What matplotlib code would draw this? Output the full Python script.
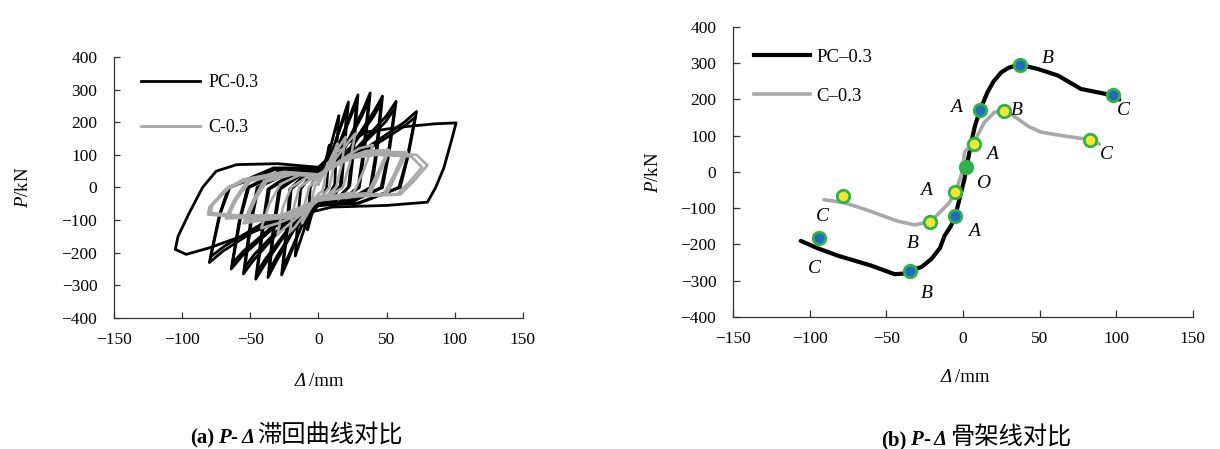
import matplotlib
matplotlib.use("Agg")
import matplotlib.pyplot as plt
from matplotlib.lines import Line2D

plt.rcParams['font.family'] = ['Liberation Serif', 'Noto Sans CJK SC']
plt.rcParams['mathtext.fontset'] = 'custom'
plt.rcParams['mathtext.rm'] = 'Liberation Serif'
plt.rcParams['mathtext.it'] = 'Liberation Serif:italic'
plt.rcParams['mathtext.bf'] = 'Liberation Serif:bold'

# ---------------- data: (a) hysteresis loops ----------------
pc_loop_x = [
    [0, 4, 7, 8, 7, 6, 3, 0, -4, -7, -8, -7, -6, -3, 0],
    [0, 8, 13, 15, 13, 12, 7, 0, -9, -15, -17, -15, -13, -7, 0],
    [0, 11, 19, 22, 19, 17, 10, 0, -13, -23, -27, -23, -21, -11, 0],
    [0, 10, 18, 21, 18, 16, 9, 0, -12, -22, -26, -22, -20, -10, 0],
    [0, 14, 25, 29, 26, 23, 13, 0, -18, -32, -37, -33, -29, -15, 0],
    [0, 13, 24, 28, 25, 22, 12, 0, -17, -31, -36, -32, -28, -14, 0],
    [0, 19, 33, 38, 34, 30, 16, 0, -22, -40, -46, -41, -37, -19, 0],
    [0, 18, 32, 37, 33, 29, 15, 0, -21, -39, -45, -40, -36, -18, 0],
    [0, 23, 41, 47, 43, 39, 20, 0, -27, -48, -55, -50, -45, -23, 0],
    [0, 22, 40, 46, 42, 38, 19, 0, -26, -47, -54, -49, -44, -22, 0],
    [0, 28, 50, 57, 52, 47, 24, 0, -32, -56, -64, -58, -52, -26, 0],
    [0, 27, 49, 56, 51, 46, 23, 0, -31, -55, -63, -57, -51, -25, 0],
    [0, 35, 63, 72, 66, 60, 30, 0, -40, -70, -80, -73, -66, -33, 0],
    [0, 34, 62, 71, 65, 59, 29, 0, -39, -69, -79, -72, -65, -32, 0],
    [0, 15, 35, 60, 85, 101, 98, 92, 86, 80, 50, 10, -20, -50, -80, -97,
     -105, -103, -95, -85, -75, -60, -30, 0],
]
pc_loop_y = [
    [20, 60, 110, 130, 60, 0, -30, -35, -70, -115, -130, -60, 0, 25, 20],
    [30, 110, 190, 220, 100, 10, -30, -45, -110, -185, -210, -90, -5, 30, 30],
    [35, 120, 225, 262, 110, 10, -35, -50, -125, -230, -268, -110, -5, 35, 35],
    [30, 110, 205, 240, 100, 5, -35, -45, -115, -210, -245, -100, -5, 30, 30],
    [40, 120, 240, 284, 120, 5, -40, -55, -130, -235, -276, -120, -5, 40, 40],
    [35, 110, 220, 262, 110, 0, -40, -50, -120, -215, -255, -110, -5, 35, 35],
    [45, 120, 240, 290, 120, 0, -45, -55, -130, -240, -281, -120, -5, 45, 45],
    [40, 110, 220, 268, 110, 0, -45, -50, -120, -220, -260, -110, -5, 40, 40],
    [50, 120, 235, 280, 110, 0, -45, -55, -125, -225, -265, -110, 0, 50, 50],
    [45, 110, 215, 258, 100, 0, -45, -50, -115, -205, -245, -100, 0, 45, 45],
    [55, 120, 220, 264, 110, 0, -45, -55, -120, -210, -250, -100, 0, 55, 55],
    [50, 110, 200, 242, 100, 0, -45, -50, -110, -195, -232, -90, 0, 50, 50],
    [60, 120, 200, 233, 100, 0, -48, -55, -115, -195, -230, -90, 0, 60, 60],
    [55, 110, 185, 215, 90, 0, -48, -52, -105, -180, -212, -80, 0, 55, 55],
    [62, 120, 170, 185, 195, 198, 150, 60, 0, -45, -55, -60, -90, -140, -185, -205,
     -190, -150, -80, 0, 50, 70, 73, 62],
]
c_loop_x = [
    [0, 4, 7, 5, 3, 0, -3, -5, -4, -2, 0],
    [0, 7, 12, 14, 11, 8, 3, 0, -6, -10, -12, -10, -7, -3, 0],
    [0, 8, 16, 20, 17, 13, 6, 0, -9, -17, -21, -18, -14, -6, 0],
    [0, 10, 22, 27, 23, 18, 8, 0, -12, -25, -30, -26, -20, -9, 0],
    [0, 15, 30, 40, 33, 26, 12, 0, -15, -30, -42, -36, -28, -14, 0],
    [0, 18, 33, 50, 43, 36, 17, 0, -19, -38, -53, -46, -38, -19, 0],
    [0, 20, 35, 52, 45, 38, 18, 0, -20, -40, -55, -48, -40, -20, 0],
    [0, 20, 38, 62, 55, 48, 24, 0, -24, -48, -66, -60, -50, -24, 0],
    [0, 22, 40, 65, 57, 50, 25, 0, -25, -50, -68, -62, -52, -25, 0],
    [0, 24, 43, 68, 76, 67, 58, 29, 0, -29, -58, -79, -78, -66, -53, -24, 0],
    [0, 25, 45, 72, 80, 70, 60, 30, 0, -30, -60, -81, -80, -68, -55, -25, 0],
]
c_loop_y = [
    [10, 45, 76, 30, -10, -20, -35, -56, -20, 10, 10],
    [20, 70, 115, 135, 60, 0, -25, -30, -65, -95, -110, -50, 0, 20, 20],
    [25, 70, 130, 155, 70, 0, -25, -30, -75, -120, -137, -60, 0, 25, 25],
    [30, 75, 140, 165, 75, 0, -25, -35, -80, -125, -145, -60, 0, 30, 30],
    [35, 80, 120, 130, 50, -15, -25, -40, -85, -110, -125, -50, 10, 38, 35],
    [35, 85, 105, 105, 40, -18, -22, -35, -85, -95, -100, -35, 18, 40, 35],
    [38, 90, 112, 115, 45, -20, -25, -40, -90, -100, -110, -40, 20, 42, 38],
    [38, 88, 102, 100, 35, -20, -23, -38, -85, -86, -88, -35, 20, 42, 38],
    [40, 95, 110, 108, 40, -22, -25, -40, -90, -92, -95, -40, 22, 45, 40],
    [38, 90, 100, 95, 62, 18, -20, -25, -38, -88, -86, -78, -55, -3, 23, 45, 38],
    [40, 95, 105, 100, 68, 20, -22, -27, -40, -92, -90, -83, -60, -5, 25, 48, 40],
]

# ---------------- data: (b) skeleton curves ----------------
pc_skel_x = [-105.8, -95, -81.5, -60, -44.5, -38, -34.5, -27, -20.6, -15, -12, -8, -5,
             -2, 1, 5.4, 8, 11.3, 16, 20, 25, 30, 37, 49, 62, 77, 90, 97.8, 102]
pc_skel_y = [-190, -210, -231, -258, -282, -280, -273, -262, -240, -210, -176, -150, -122,
             -70, -19, 82, 130, 172, 220, 250, 275, 288, 296, 284, 266, 229, 218, 211, 200]
c_skel_x = [-90.6, -78.2, -66, -55.4, -43, -31.5, -21.3, -14, -9, -5, -2, 0, 1, 4, 7,
            10, 14, 20.6, 26.5, 31, 36, 43, 51, 65, 83, 89]
c_skel_y = [-76.5, -84, -100, -116, -135, -146, -137, -107, -85, -56, -20, 8, 54, 68, 76,
            105, 137, 165, 169, 160, 146, 125, 110, 100, 89, 77]
pc_key_x = [-93.9, -34.5, -5, 11.3, 37, 97.8]
pc_key_y = [-183, -273, -122, 172, 296, 211]
c_key_x = [-78.2, -21.3, -5, 7, 26.5, 83]
c_key_y = [-65, -137, -56, 76, 169, 89]
o_x = [2.2]
o_y = [13]
pt_labels = ['B', 'C', 'A', 'B', 'C', 'A', 'O', 'A', 'A', 'B', 'C', 'C', 'B']
pt_label_x = [55.4, 104.7, -4.3, 35.4, 93.4, 19, 13, -24.3, 7.2, -33, -91.9, -96.7, -23.9]
pt_label_y = [312, 169, 177, 169, 47, 47, -33, -50, -165, -197, -123, -266, -334]

x_ticks = [-150, -100, -50, 0, 50, 100, 150]
y_ticks = [-400, -300, -200, -100, 0, 100, 200, 300, 400]

BLACK = '#000000'
GREY = '#a8a8a8'
GREEN = '#2db34a'
BLUE = '#1f6cc0'
YELLOW = '#f0e82a'

W, H = 1220, 449
fig = plt.figure(figsize=(W / 100, H / 100), dpi=100)
axa = fig.add_axes([0.0934, 0.2918, 0.3352, 0.5813])
axb = fig.add_axes([0.6008, 0.294, 0.377, 0.6459])

SERIF = 'Liberation Serif'
CJK = 'Noto Sans CJK SC'


def rich_text(cx, base_y, pieces):
    """Place text pieces side by side, centred at cx (px), baseline base_y (px from top)."""
    r = fig.canvas.get_renderer()
    objs = []
    total = 0
    for s, fam, sty, wt, size, gap in pieces:
        t = fig.text(0, 1 - base_y / H, s, family=fam, style=sty, weight=wt,
                     fontsize=size, va='baseline', ha='left')
        w = t.get_window_extent(r).width
        objs.append((t, w, gap))
        total += w + gap
    x = cx - total / 2
    for t, w, gap in objs:
        t.set_x(x / W)
        x += w + gap


def style_axes(ax, ticklen, ylab_x):
    ax.set_xlim(-150, 150)
    ax.set_ylim(-400, 400)
    ax.set_xticks(x_ticks)
    ax.set_yticks(y_ticks)
    ax.set_xticklabels(['\u2212' + str(-t) if t < 0 else str(t) for t in x_ticks])
    ax.set_yticklabels(['\u2212' + str(-t) if t < 0 else str(t) for t in y_ticks])
    for s in ['top', 'right']:
        ax.spines[s].set_visible(False)
    for s in ['left', 'bottom']:
        ax.spines[s].set_linewidth(0.9)
        ax.spines[s].set_color('#333333')
    ax.tick_params(axis='both', direction='in', length=ticklen, width=0.9,
                   color='#333333', labelsize=12.5)
    ax.tick_params(axis='y', pad=12)
    ax.tick_params(axis='x', pad=10)
    ax.set_ylabel(r'$\mathit{P}$/kN', fontsize=13.5)
    ax.yaxis.set_label_coords(ylab_x, 0.5)


# ---- (a) ----
for lx, ly in zip(pc_loop_x, pc_loop_y):
    axa.plot(lx, ly, color=BLACK, lw=2.0, solid_joinstyle='round')
for lx, ly in zip(c_loop_x, c_loop_y):
    axa.plot(lx, ly, color=GREY, lw=1.9, solid_joinstyle='round')
style_axes(axa, 4, -0.2)
ha = [Line2D([], [], color=BLACK, lw=2), Line2D([], [], color=GREY, lw=2)]
axa.legend(ha, ['PC-0.3', 'C-0.3'], loc='upper left', bbox_to_anchor=(0.065, 0.935),
           frameon=False, fontsize=13, handlelength=3.3, handletextpad=0.45,
           labelspacing=1.55, borderpad=0, borderaxespad=0)

# ---- (b) ----
axb.plot(pc_skel_x, pc_skel_y, color=BLACK, lw=3.0, solid_joinstyle='round',
         solid_capstyle='round')
axb.plot(c_skel_x, c_skel_y, color=GREY, lw=2.6, solid_joinstyle='round',
         solid_capstyle='round')
axb.plot(pc_key_x, pc_key_y, 'o', ms=9, mfc=BLUE, mec=GREEN, mew=2, zorder=5)
axb.plot(c_key_x, c_key_y, 'o', ms=9, mfc=YELLOW, mec=GREEN, mew=2, zorder=5)
axb.plot(o_x, o_y, 'o', ms=10, mfc=GREEN, mec=GREEN, zorder=5)
for t, x, y in zip(pt_labels, pt_label_x, pt_label_y):
    axb.text(x, y, t, fontsize=14, style='italic', ha='center', va='center',
             family=SERIF)
style_axes(axb, 5, -0.155)
hb = [Line2D([], [], color=BLACK, lw=3.0), Line2D([], [], color=GREY, lw=2.6)]
axb.legend(hb, ['PC\u20130.3', 'C\u20130.3'], loc='upper left', bbox_to_anchor=(0.045, 0.925),
           frameon=False, fontsize=13.5, handlelength=3.0, handletextpad=0.35,
           labelspacing=1.15, borderpad=0, borderaxespad=0)

# x labels
rich_text(319, 386, [('\u0394', SERIF, 'italic', 'normal', 13.5, 3),
                     ('/mm', SERIF, 'normal', 'normal', 13.5, 0)])
rich_text(965, 382, [('\u0394', SERIF, 'italic', 'normal', 13.5, 3),
                     ('/mm', SERIF, 'normal', 'normal', 13.5, 0)])

# captions
rich_text(296, 443, [('(a)', SERIF, 'normal', 'bold', 15, 4),
                     ('P', SERIF, 'italic', 'bold', 15, 0),
                     ('-', SERIF, 'normal', 'bold', 15, 4),
                     ('\u0394', SERIF, 'italic', 'bold', 15, 2),
                     ('滞回曲线对比', CJK, 'normal', 'normal', 17.5, 0)])
rich_text(976, 445, [('(b)', SERIF, 'normal', 'bold', 15, 4),
                     ('P', SERIF, 'italic', 'bold', 15, 0),
                     ('-', SERIF, 'normal', 'bold', 15, 4),
                     ('\u0394', SERIF, 'italic', 'bold', 15, 3),
                     ('骨架线对比', CJK, 'normal', 'normal', 17.5, 0)])

fig.savefig('out.png', dpi=100, facecolor='white')
